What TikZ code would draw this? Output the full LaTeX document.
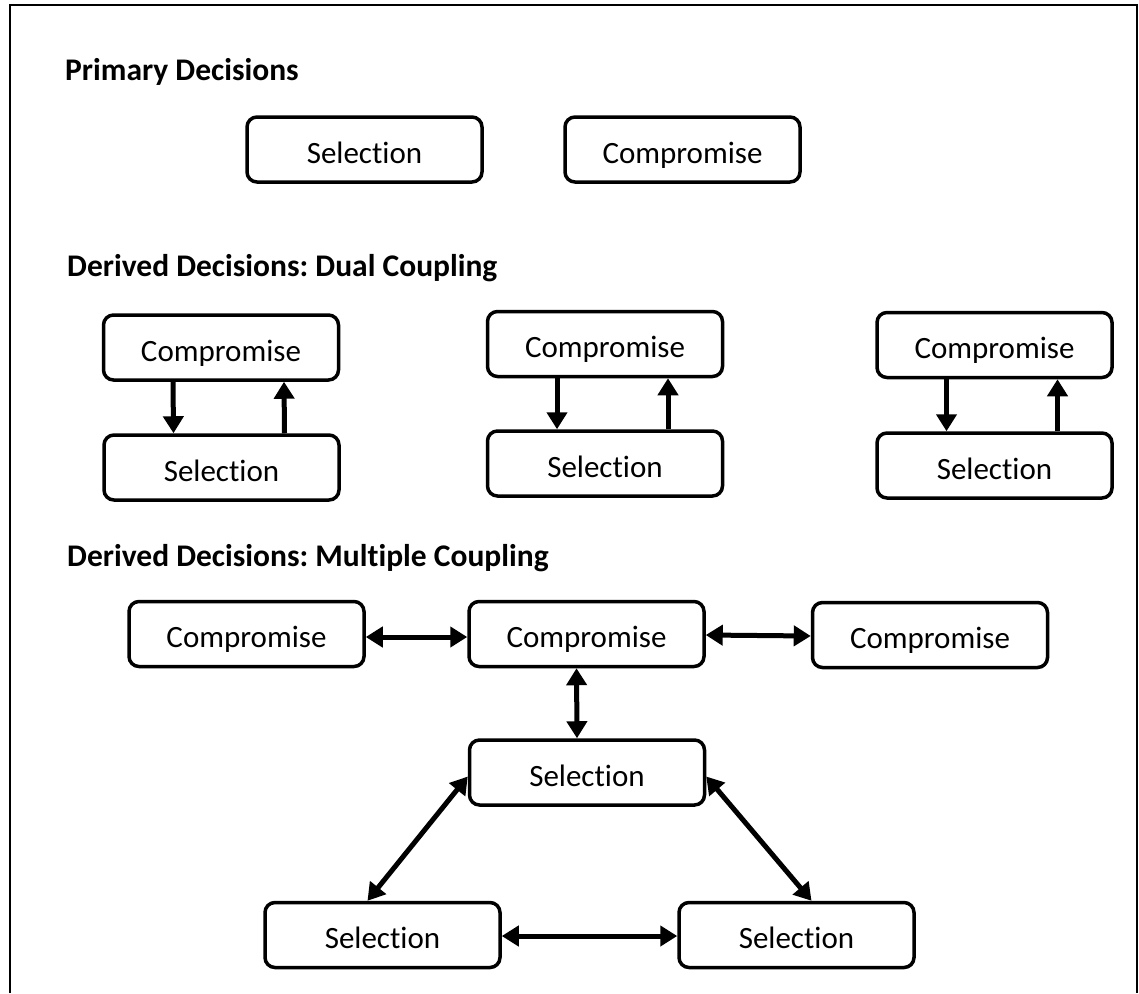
\documentclass[tikz,border=0pt]{standalone}
\usepackage{fontspec}
\setmainfont{Carlito}[RawFeature={-liga}]
\usetikzlibrary{arrows.meta}

\tikzset{
  decbox/.style={draw=black, line width=3.5pt, rounded corners=10pt, fill=white,
    minimum width=235pt, minimum height=65pt, inner sep=0pt,
    text height=30pt, text depth=3pt,
    font=\fontsize{31}{36}\selectfont},
  heading/.style={anchor=base west, inner sep=0pt, font=\fontsize{31.5}{36}\selectfont\bfseries\frenchspacing},
  tipstyle/.style={},
  onearrow/.style={line width=5pt, -{Triangle[length=17pt,width=20pt]}},
  twoarrow/.style={line width=5pt, {Triangle[length=17pt,width=20pt]}-{Triangle[length=17pt,width=20pt]}},
  frameline/.style={line width=2.5pt}
}

\begin{document}
\frenchspacing
\begin{tikzpicture}[x=1pt,y=-1pt]
  \useasboundingbox[fill=white] (0,0) rectangle (1139,993);

  % outer frame, open at the bottom
  \coordinate (fbl) at (10,993);
  \coordinate (ftl) at (10,5);
  \coordinate (ftr) at (1137,5);
  \coordinate (fbr) at (1137,993);
  \draw[frameline] (fbl) -- (ftl) -- (ftr) -- (fbr);

  % primary decisions
  \node[heading] (h1) at (65,80) {Primary Decisions};
  \node[decbox] (p1) at (364.5,149.5) {Selection};
  \node[decbox] (p2) at (682.5,149.5) {Compromise};

  % dual coupling
  \node[heading] (h2) at (67,276) {Derived Decisions: Dual Coupling};
  \node[decbox] (d1c) at (221,347.5) {Compromise};
  \node[decbox] (d1s) at (221.5,467.5) {Selection};
  \node[decbox] (d2c) at (605,344) {Compromise};
  \node[decbox] (d2s) at (605,463.5) {Selection};
  \node[decbox] (d3c) at (994.5,345) {Compromise};
  \node[decbox] (d3s) at (994.5,465.5) {Selection};

  \foreach \c/\s in {d1c/d1s, d2c/d2s, d3c/d3s}{
    \draw[onearrow] ([xshift=-48pt]\c.south) -- ([xshift=-48pt]\s.north);
    \draw[onearrow] ([xshift=63pt]\s.north) -- ([xshift=63pt]\c.south);
  }

  % multiple coupling
  \node[heading] (h3) at (67,566) {Derived Decisions: Multiple Coupling};
  \node[decbox] (mc1) at (246.5,634) {Compromise};
  \node[decbox] (mc2) at (586.5,634) {Compromise};
  \node[decbox] (mc3) at (930,635) {Compromise};
  \node[decbox] (ms1) at (587,772.5) {Selection};
  \node[decbox] (ms2) at (382.5,935) {Selection};
  \node[decbox] (ms3) at (796.5,935) {Selection};

  \draw[twoarrow] ([yshift=-3pt]mc1.east) -- ([yshift=-3pt]mc2.west);
  \draw[twoarrow] ([yshift=-1pt]mc2.east) -- ([yshift=-1pt]mc3.west);
  \draw[twoarrow] ([xshift=-10pt]mc2.south) -- ([xshift=-10pt]ms1.north);
  \draw[twoarrow] ([yshift=-4pt]ms1.west) -- ([xshift=-15pt]ms2.north);
  \draw[twoarrow] ([yshift=-4pt]ms1.east) -- ([xshift=15pt]ms3.north);
  \draw[twoarrow] ([yshift=-1pt]ms2.east) -- ([yshift=-1pt]ms3.west);
\end{tikzpicture}
\end{document}
